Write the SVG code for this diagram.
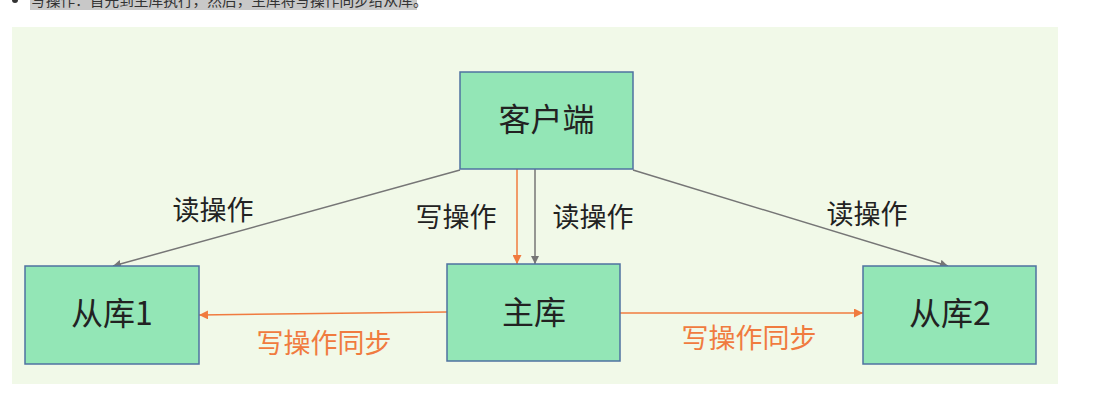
<svg xmlns="http://www.w3.org/2000/svg" width="1093" height="402" viewBox="0 0 1093 402">
<style>
.node rect{fill:#93e6b6;stroke:#4f72a0;stroke-width:1.5}
.nl{font-family:"Noto Sans CJK SC","Noto Sans",sans-serif;font-size:32px;fill:#222;text-anchor:middle}
.el{font-family:"Noto Sans CJK SC","Noto Sans",sans-serif;font-size:27px;text-anchor:middle}
.grey{stroke:#767676;stroke-width:1.5;fill:none}
.orange{stroke:#f07b3f;stroke-width:1.5;fill:none}
</style>
<defs>
<marker id="ag" viewBox="0 0 10 10" refX="10" refY="5" markerWidth="8" markerHeight="8" markerUnits="userSpaceOnUse" orient="auto"><path d="M0,0 L10,5 L0,10 z" fill="#767676"/></marker>
<marker id="ao" viewBox="0 0 10 10" refX="10" refY="5" markerWidth="9" markerHeight="9" markerUnits="userSpaceOnUse" orient="auto"><path d="M0,0 L10,5 L0,10 z" fill="#f07b3f"/></marker>
</defs>
<rect x="0" y="0" width="1093" height="402" fill="#fff"/>
<circle cx="15" cy="0" r="3" fill="#333"/>
<rect x="30" y="-10" width="387" height="20" fill="#c8c8c8"/>
<text x="31" y="5.5" font-family="'Noto Sans CJK SC',sans-serif" font-size="14.7" fill="#333">写操作：首先到主库执行，然后，主库将写操作同步给从库。</text>
<rect x="12" y="27" width="1046" height="357" fill="#f1f9e8"/>
<g id="connectors">
<line class="grey" x1="460" y1="170" x2="113" y2="266" marker-end="url(#ag)"/>
<line class="grey" x1="633" y1="170" x2="948" y2="266" marker-end="url(#ag)"/>
<line class="orange" x1="517" y1="169" x2="517" y2="264" marker-end="url(#ao)"/>
<line class="grey" x1="535" y1="169" x2="535" y2="264" marker-end="url(#ag)"/>
<line class="orange" x1="447" y1="312" x2="199" y2="315" marker-end="url(#ao)"/>
<line class="orange" x1="620" y1="313" x2="863" y2="313" marker-end="url(#ao)"/>
<text class="el" x="213" y="220" fill="#222">读操作</text>
<text class="el" x="456" y="227" fill="#222">写操作</text>
<text class="el" x="593" y="227" fill="#222">读操作</text>
<text class="el" x="867" y="224" fill="#222">读操作</text>
<text class="el" x="324" y="353" fill="#f07b3f">写操作同步</text>
<text class="el" x="749" y="348" fill="#f07b3f">写操作同步</text>
</g>
<g id="client" class="node"><rect x="460" y="72" width="173" height="97"/><text class="nl" x="546.5" y="131">客户端</text></g>
<g id="slave1" class="node"><rect x="25" y="266" width="174" height="98"/><text class="nl" x="112" y="325">从库1</text></g>
<g id="master" class="node"><rect x="447" y="264" width="173" height="97"/><text class="nl" x="534" y="324">主库</text></g>
<g id="slave2" class="node"><rect x="863" y="266" width="173" height="98"/><text class="nl" x="950" y="325">从库2</text></g>
</svg>
